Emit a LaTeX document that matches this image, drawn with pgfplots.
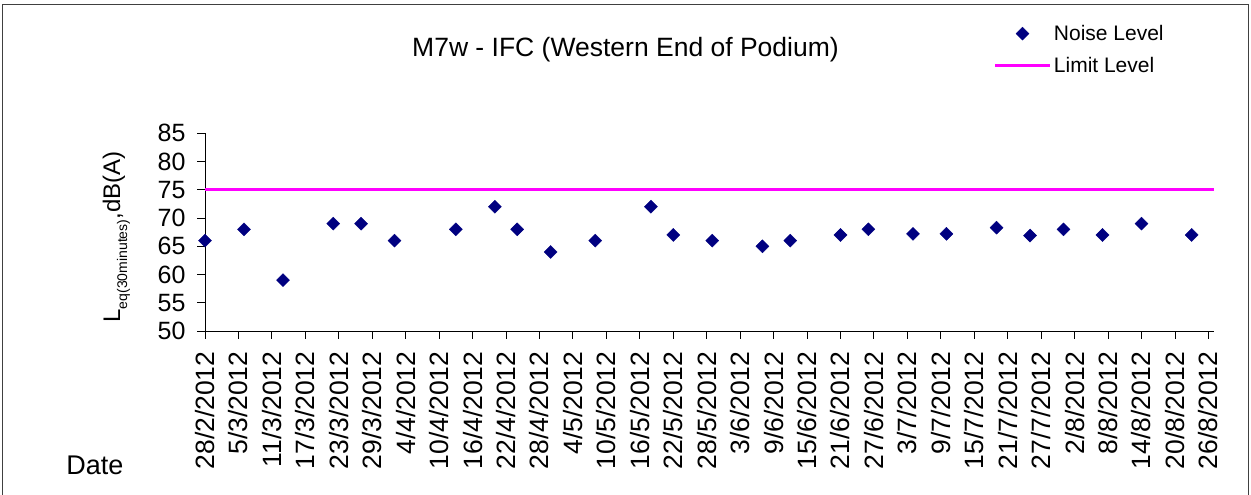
\documentclass[border=0pt]{standalone}
\usepackage{fontspec}
\setmainfont{Liberation Sans}
\usepackage{pgfplots}
\pgfplotsset{compat=1.18}
\definecolor{navy}{RGB}{0,0,128}
\definecolor{mag}{RGB}{255,0,255}
\begin{document}
\begin{tikzpicture}[x=1pt,y=1pt]
\begin{axis}[
  at={(205pt,164pt)}, anchor=south west,
  scale only axis, width=1009pt, height=197.7pt,
  xmin=0, xmax=181, ymin=50, ymax=85,
  axis x line*=bottom, axis y line*=left,
  axis line style={-, black, line width=0.9pt},
  xtick={0,6,...,180},
  xticklabels={28/2/2012,5/3/2012,11/3/2012,17/3/2012,23/3/2012,29/3/2012,4/4/2012,10/4/2012,16/4/2012,22/4/2012,28/4/2012,4/5/2012,10/5/2012,16/5/2012,22/5/2012,28/5/2012,3/6/2012,9/6/2012,15/6/2012,21/6/2012,27/6/2012,3/7/2012,9/7/2012,15/7/2012,21/7/2012,27/7/2012,2/8/2012,8/8/2012,14/8/2012,20/8/2012,26/8/2012},
  ytick={50,55,...,85},
  tick align=outside, major tick length=8pt,
  tick style={black, line width=0.9pt},
  xticklabel style={rotate=90, anchor=east, font=\fontsize{26.5}{31}\selectfont},
  yticklabel style={font=\fontsize{25}{29}\selectfont},
  xticklabel shift=9pt, yticklabel shift=8pt,
  /pgf/number format/assume math mode=true,
  clip=false,
  legend style={at={(axis description cs:0.7815,1.424)}, anchor=west,
    draw=none, fill=none, inner sep=0pt, row sep=10pt,
    nodes={inner sep=2.5pt},
    font=\fontsize{21}{25}\selectfont},
  legend cell align=left,
]
\addplot[only marks, mark=square*, mark size=4.6pt,
  mark options={rotate=45, fill=navy, draw=navy},
  legend image code/.code={\draw[mark=square*, mark size=4.6pt, mark options={rotate=45, fill=navy, draw=navy}] plot coordinates {(27.5pt,0pt)};}]
coordinates {
(0,66) (7,68) (14,59) (23,69) (28,69) (34,66) (45,68) (52,72) (56,68) (62,64)
(70,66) (80,72) (84,67) (91,66) (100,65) (105,66) (114,67) (119,68) (127,67.2)
(133,67.2) (142,68.3) (148,66.9) (154,68) (161,67) (168,69) (177,67)
};
\addlegendentry{Noise Level}
\addplot[mag, line width=2.7pt,
  legend image code/.code={\draw[mag, line width=2.7pt] (0pt,0pt) -- (55pt,0pt);}]
coordinates {(0,75) (181,75)};
\addlegendentry{Limit Level}
\end{axis}
\node[anchor=base, font=\fontsize{26.5}{32}\selectfont] at (625.5,438.3) {M7w - IFC (Western End of Podium)};
\node[rotate=90, anchor=base, font=\fontsize{24}{28}\selectfont] at (120,258) {L\raisebox{-0.3em}{\fontsize{14}{17}\selectfont eq(30minutes)},dB(A)};
\node[anchor=base, font=\fontsize{27}{31}\selectfont] at (95,20) {Date};
\draw[line width=1.6pt, black!75] (2.5,-5) -- (2.5,490.5) -- (1248.5,490.5) -- (1248.5,-5);
\pgfresetboundingbox
\useasboundingbox (0,0) rectangle (1251,495);
\end{tikzpicture}
\end{document}
